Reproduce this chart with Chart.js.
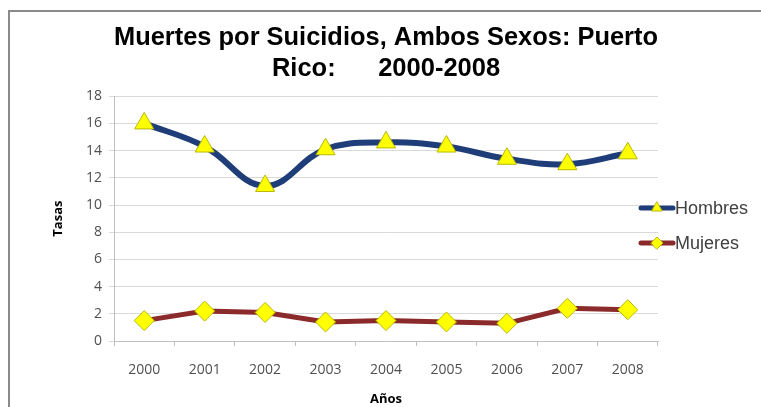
<!DOCTYPE html>
<html>
<head>
<meta charset="utf-8">
<script src="https://cdn.jsdelivr.net/npm/chart.js@4"></script>
<style>
  html, body { margin: 0; padding: 0; background: #fff; }
  #wrap { position: relative; width: 761px; height: 407px; }
  #frame { position: absolute; left: 8px; top: 10px; width: 760px; height: 400px; border-top: 2px solid #8a8a8a; border-left: 2px solid #8a8a8a; }
  canvas { position: absolute; left: 0; top: 0; }
</style>
</head>
<body>
<div id="wrap">
  <div id="frame"></div>
  <canvas id="c" width="761" height="407"></canvas>
</div>
<script>
const years = ['2000','2001','2002','2003','2004','2005','2006','2007','2008'];
const hombres = [16.0, 14.3, 11.4, 14.1, 14.6, 14.3, 13.4, 13.0, 13.8];
const mujeres = [1.5, 2.2, 2.1, 1.4, 1.5, 1.4, 1.3, 2.4, 2.3];
const yTicks = [0, 2, 4, 6, 8, 10, 12, 14, 16, 18];
const titleLines = ['Muertes por Suicidios, Ambos Sexos: Puerto', 'Rico:      2000-2008'];
const xTitle = 'Años';
const yTitle = 'Tasas';

const legendPlugin = {
  id: 'sideLegend',
  afterDraw(chart) {
    const ctx = chart.ctx;
    const ys = [208, 243];
    chart.data.datasets.forEach((ds, i) => {
      const y = ys[i];
      ctx.save();
      ctx.strokeStyle = ds.borderColor;
      ctx.lineWidth = 5;
      ctx.lineCap = 'round';
      ctx.beginPath();
      ctx.moveTo(641, y);
      ctx.lineTo(673, y);
      ctx.stroke();
      ctx.fillStyle = ds.pointBackgroundColor;
      ctx.strokeStyle = ds.pointBorderColor;
      ctx.lineWidth = 1;
      Chart.helpers.drawPoint(ctx, {pointStyle: ds.pointStyle, radius: 6, borderWidth: 1}, 657, y);
      ctx.fillStyle = '#404040';
      ctx.font = '18px "Liberation Sans", Arial, sans-serif';
      ctx.textBaseline = 'middle';
      ctx.textAlign = 'left';
      ctx.fillText(ds.label, 675, y + 1);
      ctx.restore();
    });
  }
};

new Chart(document.getElementById('c'), {
  type: 'line',
  data: {
    labels: years,
    datasets: [
      {
        label: 'Hombres',
        data: hombres,
        borderColor: '#1f3d78',
        borderWidth: 6,
        tension: 0.4,
        pointStyle: 'triangle',
        pointRadius: 11,
        pointBackgroundColor: '#ffff00',
        pointBorderColor: '#b8b800',
        pointBorderWidth: 1
      },
      {
        label: 'Mujeres',
        data: mujeres,
        borderColor: '#8b2a2a',
        borderWidth: 5,
        tension: 0,
        pointStyle: 'rectRot',
        pointRadius: 10,
        pointBackgroundColor: '#ffff00',
        pointBorderColor: '#b8b800',
        pointBorderWidth: 1
      }
    ]
  },
  options: {
    responsive: false,
    animation: false,
    layout: { padding: { left: 50, right: 103, top: 0, bottom: 0 } },
    plugins: {
      legend: { display: false },
      tooltip: { enabled: false },
      title: {
        display: true,
        fullSize: false,
        text: titleLines,
        color: '#000',
        font: { family: '"Liberation Sans", Arial, sans-serif', size: 25.5, weight: 'bold', lineHeight: 1.2 },
        padding: { top: 23, bottom: 12 }
      }
    },
    scales: {
      x: {
        offset: true,
        grid: { offset: true, drawOnChartArea: false, color: '#bfbfbf', tickLength: 5 },
        border: { color: '#bfbfbf' },
        ticks: { color: '#505050', font: { family: '"Open Sans", sans-serif', size: 14 }, padding: 16 },
        title: { display: true, text: xTitle, color: '#000', font: { family: '"Open Sans", sans-serif', size: 13, weight: 'bold' }, padding: { top: 5, bottom: 0 } },
        afterFit(s) { s.height = 66; }
      },
      y: {
        min: 0, max: 18,
        afterBuildTicks(s) { s.ticks = yTicks.map(v => ({ value: v })); },
        grid: { color: '#d9d9d9', tickLength: 5 },
        border: { color: '#bfbfbf' },
        ticks: { color: '#505050', font: { family: '"Open Sans", sans-serif', size: 14 }, padding: 7 },
        title: { display: true, text: yTitle, color: '#000', font: { family: '"Open Sans", sans-serif', size: 13, weight: 'bold' }, padding: { top: 0, bottom: 6 } },
        afterFit(s) { s.width = 64; }
      }
    }
  },
  plugins: [legendPlugin]
});
</script>
</body>
</html>
